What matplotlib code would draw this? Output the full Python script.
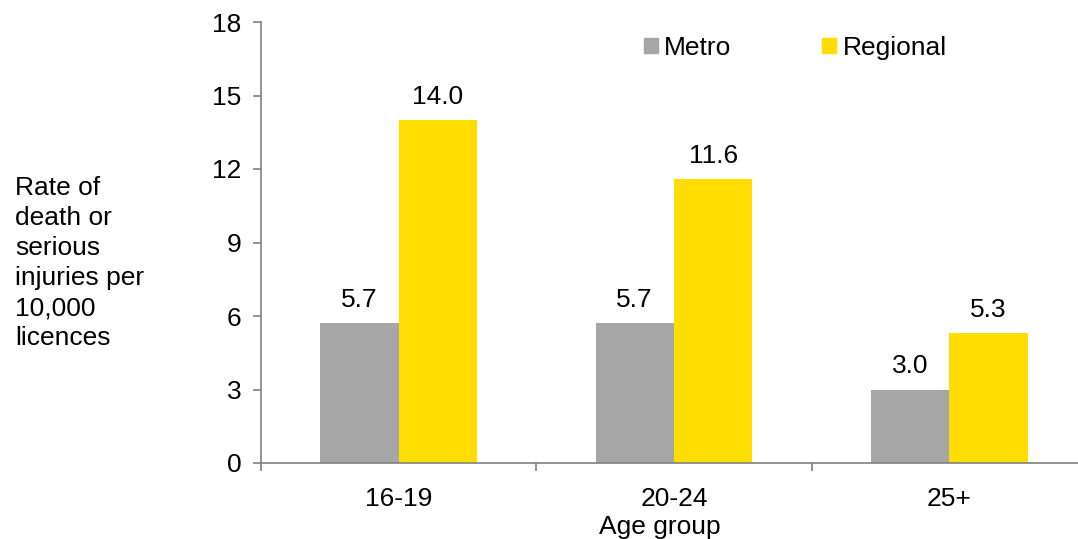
import matplotlib
matplotlib.use("Agg")
from matplotlib import pyplot as plt
import matplotlib.patches as mpatches
import numpy as np

# data
age_groups = ["16-19", "20-24", "25+"]
metro = [5.7, 5.7, 3.0]
regional = [14.0, 11.6, 5.3]
yticks = [0, 3, 6, 9, 12, 15, 18]

grey = "#A6A6A6"
yellow = "#FFDD00"
axis_col = "#808080"
fs = 19

plt.rcParams["font.family"] = ["Liberation Sans", "DejaVu Sans"]

fig = plt.figure(figsize=(10.78, 5.39), dpi=100)
W, H = 1078, 539
# axes runs past the right edge of the picture, like the original
ax = fig.add_axes([261 / W, 1 - 463 / H, (1087 - 261) / W, (463 - 22) / H])

x = np.arange(len(age_groups))
bw = 0.285
ax.bar(x - bw / 2, metro, width=bw, color=grey, zorder=2)
ax.bar(x + bw / 2, regional, width=bw, color=yellow, zorder=2)

for xi, v in zip(x - bw / 2, metro):
    ax.text(xi, v + 0.45, "%.1f" % v, ha="center", va="bottom", fontsize=fs)
for xi, v in zip(x + bw / 2, regional):
    ax.text(xi, v + 0.45, "%.1f" % v, ha="center", va="bottom", fontsize=fs)

ax.set_xlim(-0.5, len(age_groups) - 0.5)
ax.set_ylim(0, 18)
ax.set_yticks(yticks)
ax.set_yticklabels([str(t) for t in yticks], fontsize=fs)
ax.set_xticks(x)
ax.set_xticklabels(age_groups, fontsize=fs)
# category boundary ticks
ax.set_xticks(np.arange(len(age_groups) + 1) - 0.5, minor=True)
ax.tick_params(axis="x", which="major", length=0, pad=17)
ax.tick_params(axis="x", which="minor", length=6, color=axis_col, width=1.2)
ax.tick_params(axis="y", length=6, color=axis_col, width=1.2, pad=8)

for s in ["top", "right"]:
    ax.spines[s].set_visible(False)
for s in ["left", "bottom"]:
    ax.spines[s].set_color(axis_col)
    ax.spines[s].set_linewidth(1.2)

fig.text(660 / W, 1 - 527 / H, "Age group", ha="center", va="center", fontsize=fs)
fig.text(15 / W, 1 - 263 / H,
         "Rate of\ndeath or\nserious\ninjuries per\n10,000\nlicences",
         ha="left", va="center", fontsize=fs, linespacing=1.32)

metro_patch = mpatches.Patch(color=grey, label="Metro")
regional_patch = mpatches.Patch(color=yellow, label="Regional")
fig.legend(handles=[metro_patch, regional_patch], ncol=2, frameon=False,
           fontsize=fs, loc="center left", bbox_to_anchor=(644 / W, 1 - 48 / H),
           handlelength=0.53, handleheight=0.53, handletextpad=0.23,
           columnspacing=3.45, borderaxespad=0, borderpad=0)

fig.savefig("out.png", dpi=100)
